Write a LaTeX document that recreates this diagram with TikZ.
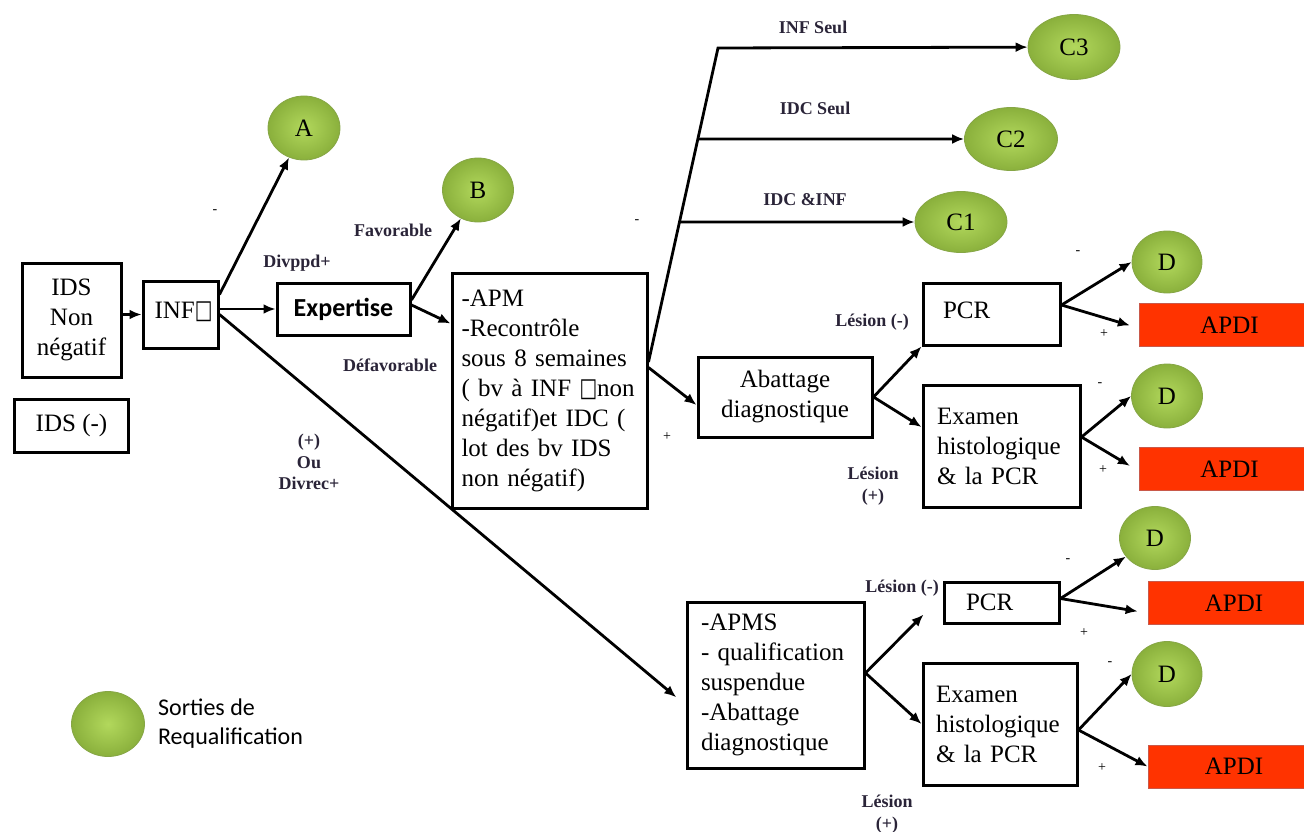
\documentclass[tikz,border=0pt]{standalone}
\usepackage{fontspec}
\setmainfont{Liberation Serif}
\newfontfamily\calibri{Carlito}
\newfontfamily\glyphfont{DejaVu Sans}
\usepackage{graphicx}
\usepackage{tikz}
\usetikzlibrary{arrows.meta,positioning,calc,shapes.geometric}
\usepackage{xcolor}
\definecolor{leafgreen}{HTML}{B2D85C}
\definecolor{mossgreen}{HTML}{8AB03C}
\definecolor{rimgreen}{HTML}{86A646}
\definecolor{apdired}{HTML}{FF3300}
\definecolor{apdirim}{HTML}{C9594A}
\definecolor{labelink}{HTML}{2A2438}
\newcommand{\nog}{{\glyphfont\fontsize{26}{26}\selectfont\scalebox{0.72}[1]{□}}}
\tikzset{
  box/.style={draw, line width=3pt, inner sep=0pt, align=center, font=\fontsize{25}{30}\selectfont},
  leftbox/.style={box, align=left},
  exitnode/.style={ellipse, draw=rimgreen, line width=0.8pt, inner color=leafgreen, outer color=mossgreen, inner sep=0pt, font=\fontsize{25}{30}\selectfont},
  apdibox/.style={draw=apdirim, line width=1pt, fill=apdired, inner sep=0pt, minimum height=43pt, minimum width=181pt, font=\fontsize{25}{30}\selectfont},
  arrow/.style={-{Latex[length=12pt,width=10pt]}, line width=2.8pt},
  lbl/.style={font=\bfseries\fontsize{18}{21.5}\selectfont, text=labelink, align=center, inner sep=0pt},
  sign/.style={font=\fontsize{14}{14}\selectfont, inner sep=0pt}
}

\begin{document}
\begin{tikzpicture}[x=1pt, y=-1pt]
  \useasboundingbox (0,0) rectangle (1304,832);
  % left column
  \node[box, minimum width=99pt, minimum height=114pt] (ids) at (71.5,320) {IDS\\Non\\négatif};
  \node[box, below=19pt of ids, minimum width=114pt, minimum height=53pt] (idsneg) {IDS (-)};
  \node[box, minimum width=75pt, minimum height=67pt] (inf) at (180.5,314.5) {\raisebox{9pt}{\hspace{6pt}INF\nog}};
  \node[box, minimum width=133pt, minimum height=52pt, font=\calibri\bfseries\fontsize{26}{30}\selectfont] (expert) at (343.5,309) {Expertise};
  \node[exitnode, minimum width=72pt, minimum height=64pt] (a) at (304,128) {A};
  \node[exitnode, minimum width=71pt, minimum height=64pt] (b) at (478,190) {B};

  % APM branch
  \node[leftbox, minimum width=195pt, minimum height=235pt, text width=176pt, inner xsep=9.5pt] (apm) at (549.5,390.5)
    {-APM\\-Recontrôle\\sous 8 semaines\\( bv à INF \nog non\\négatif)et IDC (\\lot des bv IDS\\non négatif)};
  \node[exitnode, minimum width=92pt, minimum height=65pt] (c3) at (1074,47) {C3};
  \node[exitnode, minimum width=93pt, minimum height=63pt] (c2) at (1011,139) {C2};
  \node[exitnode, minimum width=92pt, minimum height=61pt] (c1) at (961,222) {C1};
  \node[box, minimum width=174pt, minimum height=80pt] (abattage) at (785,397) {Abattage\\diagnostique};
  \node[leftbox, minimum width=137pt, minimum height=62pt, text width=97pt, inner xsep=20pt] (pcr1) at (991.5,314) {\raisebox{7pt}{PCR}};
  \node[leftbox, minimum width=157pt, minimum height=122pt, text width=129pt, inner xsep=14pt] (examen1) at (1001.5,446) {Examen\\histologique\\\& la PCR};
  \node[exitnode, minimum width=70pt, minimum height=62pt] (d1) at (1167,262) {D};
  \node[exitnode, minimum width=71pt, minimum height=64pt] (d2) at (1167,396) {D};
  \node[apdibox] (apdi1) at (1229.5,325) {APDI};
  \node[apdibox] (apdi2) at (1229.5,469) {APDI};

  % APMS branch
  \node[leftbox, minimum width=177pt, minimum height=166pt, text width=149pt, inner xsep=14pt] (apms) at (775.5,685)
    {-APMS\\- qualification\\suspendue\\-Abattage\\diagnostique};
  \node[leftbox, minimum width=115pt, minimum height=41pt, text width=71pt, inner xsep=22pt] (pcr2) at (1001.5,602.5) {PCR};
  \node[leftbox, minimum width=154pt, minimum height=122pt, text width=128pt, inner xsep=13pt] (examen2) at (1000,724) {Examen\\histologique\\\& la PCR};
  \node[exitnode, minimum width=71pt, minimum height=63pt] (d3) at (1155,538) {D};
  \node[exitnode, minimum width=70pt, minimum height=65pt] (d4) at (1167,674) {D};
  \node[apdibox, minimum width=172pt] (apdi3) at (1234,603) {APDI};
  \node[apdibox, minimum width=172pt] (apdi4) at (1234,766.5) {APDI};

  % legend
  \node[exitnode, minimum width=73pt, minimum height=65pt] (legend) at (108,724) {};
  \node[right=13pt of legend, align=left, inner sep=0pt, font=\calibri\fontsize{24}{29}\selectfont] (legtext) {Sorties de\\Requalification};

  % labels
  \node[lbl] (ldivppd) at (297,263) {Divppd+};
  \node[lbl] (lfav) at (393,230) {Favorable};
  \node[lbl] (ldefav) at (390,365) {Défavorable};
  \node[lbl] (ldivrec) at (309,462) {(+)\\Ou\\Divrec+};
  \node[lbl] (linf) at (813,27) {INF Seul};
  \node[lbl] (lidc) at (815,108) {IDC Seul};
  \node[lbl] (lboth) at (805,200) {IDC \&INF};
  \node[lbl] (lles1) at (872,322) {Lésion (-)};
  \node[lbl] (lles2) at (873,486) {Lésion\\(+)};
  \node[lbl] (lles3) at (902,588) {Lésion (-)};
  \node[lbl] (lles4) at (887,814) {Lésion\\(+)};
  \node[sign] (s1) at (215,212) {-};
  \node[sign] (s2) at (637,222) {-};
  \node[sign] (s3) at (667,437) {+};
  \node[sign] (s4) at (1078,253) {-};
  \node[sign] (s5) at (1104,334) {+};
  \node[sign] (s6) at (1100,385) {-};
  \node[sign] (s7) at (1103,470) {+};
  \node[sign] (s8) at (1068,561) {-};
  \node[sign] (s9) at (1084,633) {+};
  \node[sign] (s10) at (1110,664) {-};
  \node[sign] (s11) at (1102,768) {+};

  % connectors
  \draw[arrow] (ids.east |- inf.west) -- (inf.west);
  \draw[arrow] ([yshift=-15pt]inf.north east) -- (a);
  \draw[arrow] (inf.east |- expert.west) -- (expert.west);
  \draw[arrow, shorten >=12pt] (inf.east) -- ([yshift=-20pt]apms.west);
  \draw[arrow] ([yshift=9pt]expert.east) -- (b);
  \draw[arrow] ([yshift=4pt]expert.east) -- ([yshift=67pt]apm.west);

  \coordinate (apmout) at ([yshift=28.5pt]apm.east);
  \coordinate (fork) at (718,48);
  \coordinate (k2) at ($(apmout)!0.710!(fork)$);
  \coordinate (k1) at ($(apmout)!0.446!(fork)$);
  \draw[arrow] (apmout) -- (fork) -- (c3);
  \draw[arrow] (k2) -- (c2);
  \draw[arrow] (k1) -- (c1);
  \draw[arrow] ([yshift=23pt]apm.east) -- ([yshift=-8pt]abattage.west);

  \draw[arrow] (abattage.east) -- (pcr1.south west);
  \draw[arrow] (abattage.east) -- ([yshift=19pt]examen1.west);
  \draw[arrow] ([yshift=9pt]pcr1.east) -- (d1.west);
  \draw[arrow, shorten >=9pt] ([yshift=9pt]pcr1.east) -- ([yshift=-3pt]apdi1.west);
  \draw[arrow] ([yshift=9pt]examen1.east) -- (d2.west);
  \draw[arrow, shorten >=10pt] ([yshift=9pt]examen1.east) -- ([yshift=-2pt]apdi2.west);

  \draw[arrow] ([yshift=12pt]apms.east) -- ([xshift=-19pt,yshift=10pt]pcr2.south west);
  \draw[arrow] ([yshift=12pt]apms.east) -- (examen2.west);
  \draw[arrow] ([yshift=4pt]pcr2.east) -- (d3);
  \draw[arrow, shorten >=10pt] ([yshift=4pt]pcr2.east) -- ([yshift=-10pt]apdi3.west);
  \draw[arrow] ([yshift=-6pt]examen2.east) -- (d4.west);
  \draw[arrow] ([yshift=-6pt]examen2.east) -- (apdi4.west);
\end{tikzpicture}
\end{document}
